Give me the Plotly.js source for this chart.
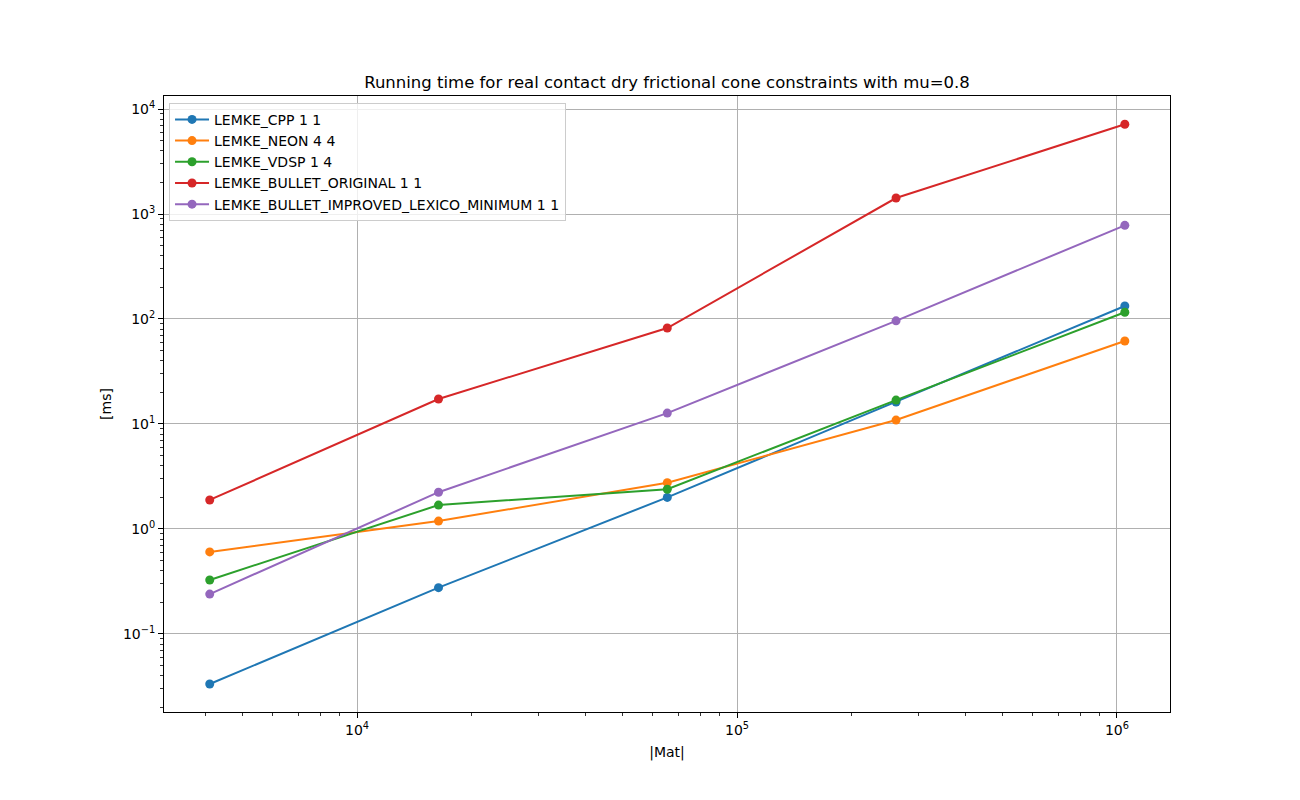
<!DOCTYPE html>
<html>
<head>
<meta charset="utf-8">
<script src="https://cdn.plot.ly/plotly-3.0.1.min.js"></script>
<style>html,body{margin:0;padding:0;background:#fff;}#chart{width:1300px;height:800px;}</style>
</head>
<body>
<div id="chart"></div>
<script>
// Data
const matSizes = [4096, 16384, 65536, 262144, 1048576];
const seriesNames = [
  "LEMKE_CPP 1 1",
  "LEMKE_NEON 4 4",
  "LEMKE_VDSP 1 4",
  "LEMKE_BULLET_ORIGINAL 1 1",
  "LEMKE_BULLET_IMPROVED_LEXICO_MINIMUM 1 1"
];
const cppTimes      = [0.0334, 0.276, 2.00, 16.2, 133];
const neonTimes     = [0.605, 1.19, 2.76, 10.9, 61.7];
const vdspTimes     = [0.327, 1.69, 2.39, 16.9, 116];
const bulletOrigTimes = [1.89, 17.3, 82, 1420, 7150];
const bulletImpTimes  = [0.24, 2.24, 12.7, 96, 780];
const xTickVals = [1e4, 1e5, 1e6];
const xTickText = ["10<sup>4</sup>", "10<sup>5</sup>", "10<sup>6</sup>"];
const yTickVals = [0.1, 1, 10, 100, 1000, 10000];
const yTickText = ["10<sup>\u22121</sup>", "10<sup>0</sup>", "10<sup>1</sup>", "10<sup>2</sup>", "10<sup>3</sup>", "10<sup>4</sup>"];

const colors = ["#1f77b4", "#ff7f0e", "#2ca02c", "#d62728", "#9467bd"];
const allSeries = [cppTimes, neonTimes, vdspTimes, bulletOrigTimes, bulletImpTimes];

// minor log ticks (2..9 x 10^k), axis decoration only
function minorTicks(kFrom, kTo) {
  const out = [];
  for (let k = kFrom; k <= kTo; k++) for (let m = 2; m <= 9; m++) out.push(m * Math.pow(10, k));
  return out;
}

const traces = allSeries.map((ys, i) => ({
  x: matSizes,
  y: ys,
  name: seriesNames[i],
  type: "scatter",
  mode: "lines+markers",
  line: {color: colors[i], width: 2},
  marker: {color: colors[i], size: 9}
}));

const font = {family: "DejaVu Sans, sans-serif", size: 14, color: "#000"};
const axisCommon = {
  type: "log",
  showline: true, linecolor: "#000", linewidth: 1, mirror: true,
  ticks: "outside", ticklen: 5, tickwidth: 1, tickcolor: "#000",
  showgrid: true, gridcolor: "#b0b0b0", gridwidth: 1,
  zeroline: false,
  tickfont: font
};

const layout = {
  width: 1300, height: 800,
  paper_bgcolor: "#fff", plot_bgcolor: "#fff",
  font: font,
  margin: {l: 164, r: 130, t: 96, b: 88},
  title: {text: "Running time for real contact dry frictional cone constraints with mu=0.8",
          font: {family: "DejaVu Sans, sans-serif", size: 16.5, color: "#000"},
          x: 0.5, xref: "paper", xanchor: "center", y: 1, yref: "paper", yanchor: "bottom", pad: {b: 8}},
  xaxis: Object.assign({}, axisCommon, {
    range: [3.492, 6.1395],
    tickmode: "array", tickvals: xTickVals, ticktext: xTickText,
    minor: {tickmode: "array", tickvals: minorTicks(3, 6), ticks: "outside", ticklen: 3, tickwidth: 0.8, tickcolor: "#000", showgrid: false},
    title: {text: "|Mat|", font: font, standoff: 10}
  }),
  yaxis: Object.assign({}, axisCommon, {
    range: [-1.743, 4.1238],
    tickmode: "array", tickvals: yTickVals, ticktext: yTickText,
    minor: {tickmode: "array", tickvals: minorTicks(-2, 4), ticks: "outside", ticklen: 3, tickwidth: 0.8, tickcolor: "#000", showgrid: false},
    title: {text: "[ms]", font: font, standoff: 8}
  }),
  showlegend: true,
  legend: {
    x: 0.005, y: 0.989, xanchor: "left", yanchor: "top",
    bgcolor: "rgba(255,255,255,0.8)", bordercolor: "#cccccc", borderwidth: 1,
    font: {family: "DejaVu Sans, sans-serif", size: 14, color: "#000"},
    itemwidth: 34, tracegroupgap: 0
  }
};

Plotly.newPlot("chart", traces, layout, {displayModeBar: false, staticPlot: true});
</script>
</body>
</html>
